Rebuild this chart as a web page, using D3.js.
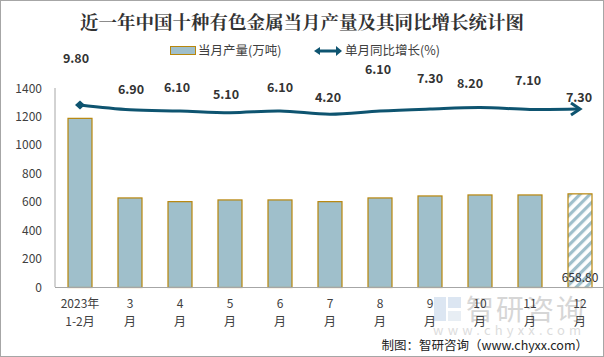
<!DOCTYPE html>
<html><head><meta charset="utf-8">
<script src="https://cdn.jsdelivr.net/npm/d3@7"></script>
<style>body{margin:0;background:#fff;}svg{display:block;font-family:"Noto Sans CJK SC","Noto Sans",sans-serif;}</style>
</head><body><div id="chart"></div>
<script>
const categories = [["2023年","1-2月"],["3","月"],["4","月"],["5","月"],["6","月"],["7","月"],["8","月"],["9","月"],["10","月"],["11","月"],["12","月"]];
const output = [1190, 630, 604, 616, 616, 604, 630, 644, 651, 651, 658.8];
const growth = [9.8, 6.9, 6.1, 5.1, 6.1, 4.2, 6.1, 7.3, 8.2, 7.1, 7.3];
const yTicks = [0, 200, 400, 600, 800, 1000, 1200, 1400];
// label placement offsets (layout only)
const labelDx = [-4, 1, -3, -4, 0, -2, -2, 0, -10, -2, -1];
const labelDy = [-47, -21, -24, -19, -24, -17, -42, -31, -25, -29, -12];

const W = 604, H = 357;
const svg = d3.select("#chart").append("svg").attr("width", W).attr("height", H);
svg.append("rect").attr("x",0.5).attr("y",0.5).attr("width",W-1).attr("height",H-1).attr("fill","#fff").attr("stroke","#a6a6a6");

const defs = svg.append("defs");
const pat = defs.append("pattern").attr("id","hatch").attr("patternUnits","userSpaceOnUse").attr("width",7).attr("height",7).attr("patternTransform","rotate(45)");
pat.append("rect").attr("width",7).attr("height",7).attr("fill","#fff");
pat.append("rect").attr("x",0).attr("width",3.2).attr("height",7).attr("fill","#9fbfcb");

const x = d3.scaleBand().domain(d3.range(categories.length)).range([55, 605]).paddingInner(0.5).paddingOuter(0.25);
const y = d3.scaleLinear().domain([0, 1400]).range([287, 88]);
const y2 = d3.scaleLinear().domain([-100, 20]).range([287, 88]);

// title
svg.append("text").attr("x", 302).attr("y", 29).attr("text-anchor","middle")
  .attr("font-size", 18.5).attr("font-weight","bold").attr("fill","#333")
  .style("font-family","'Noto Serif CJK SC','Noto Sans CJK SC',serif")
  .text("近一年中国十种有色金属当月产量及其同比增长统计图");

// legend
svg.append("rect").attr("x",170.5).attr("y",46.5).attr("width",25).attr("height",8).attr("fill","#9fbfcb").attr("stroke","#b8860b");
svg.append("text").attr("x",198).attr("y",55).attr("font-size",12.5).attr("fill","#404040").text("当月产量(万吨)");
const lg = svg.append("g");
lg.append("line").attr("x1",318).attr("x2",338).attr("y1",51).attr("y2",51).attr("stroke","#0e5470").attr("stroke-width",3);
lg.append("path").attr("d","M314,51 L320,47 L320,55 Z").attr("fill","#0e5470");
lg.append("path").attr("d","M342,51 L336,46 L336,56 Z").attr("fill","#0e5470");
svg.append("text").attr("x",345).attr("y",55).attr("font-size",12.5).attr("fill","#404040").text("单月同比增长(%)");

// y axis
const ya = svg.append("g");
ya.append("line").attr("x1",55).attr("x2",55).attr("y1",y(1400)).attr("y2",287).attr("stroke","#a6a6a6");
ya.selectAll("text").data(yTicks).join("text").attr("x",42).attr("y",d=>y(d)+4.5).attr("text-anchor","end")
  .attr("font-size",12).attr("fill","#404040").text(d=>d);

// watermark
const wm = svg.append("g").attr("opacity",0.4);
wm.append("rect").attr("x",434).attr("y",297).attr("width",12).attr("height",24).attr("fill","#a9c2df");
wm.append("rect").attr("x",448).attr("y",297).attr("width",13).attr("height",11).attr("fill","#a9c2df");
wm.append("rect").attr("x",448).attr("y",311).attr("width",13).attr("height",10).attr("fill","#c8d6e6");
wm.append("text").attr("x",466).attr("y",320).attr("font-size",28).attr("fill","#9a9a9a").attr("letter-spacing",2).text("智研咨询");
wm.append("text").attr("x",433).attr("y",335).attr("font-size",13).attr("fill","#aaa").attr("letter-spacing",4.2).text("www.chyxx.com");

// bars
svg.selectAll("rect.bar").data(output).join("rect").attr("class","bar")
  .attr("x",(d,i)=>x(i)+0.5).attr("y",d=>y(d)+0.5).attr("width",x.bandwidth()-1).attr("height",d=>287-y(d))
  .attr("fill",(d,i)=>i===output.length-1?"url(#hatch)":"#9fbfcb").attr("stroke","#b8860b").attr("stroke-width",1.2);

// x axis
svg.append("line").attr("x1",55).attr("x2",605).attr("y1",287.5).attr("y2",287.5).attr("stroke","#a6a6a6");
const xl = svg.append("g");
categories.forEach((c,i)=>{
  const cx = x(i)+x.bandwidth()/2;
  xl.append("text").attr("x",cx).attr("y",308).attr("text-anchor","middle").attr("font-size",12).attr("fill","#404040").text(c[0]);
  xl.append("text").attr("x",cx).attr("y",326).attr("text-anchor","middle").attr("font-size",12).attr("fill","#404040").text(c[1]);
});

// last bar label
const li = output.length-1;
svg.append("text").attr("x",x(li)+x.bandwidth()/2).attr("y",282).attr("text-anchor","middle").attr("font-size",12).attr("fill","#333").text(output[li].toFixed(2));

// line
const pts = growth.map((v,i)=>[x(i)+x.bandwidth()/2, y2(v)]);
const line = d3.line().curve(d3.curveCatmullRom.alpha(0.5));
const last = pts[pts.length-1];
const pts2 = pts.slice(); pts2[pts2.length-1] = [last[0]-2, last[1]];
svg.append("path").attr("d",line(pts2)).attr("fill","none").attr("stroke","#0e5470").attr("stroke-width",3);
svg.append("path").attr("d",`M${pts[0][0]-5},${pts[0][1]} L${pts[0][0]},${pts[0][1]-4.5} L${pts[0][0]+5},${pts[0][1]} L${pts[0][0]},${pts[0][1]+4.5} Z`).attr("fill","#0e5470");
svg.append("path").attr("d",`M${last[0]-9},${last[1]-6} L${last[0]},${last[1]} L${last[0]-9},${last[1]+6}`).attr("fill","none").attr("stroke","#0e5470").attr("stroke-width",3);

svg.selectAll("text.gl").data(growth).join("text").attr("class","gl")
  .attr("x",(d,i)=>pts[i][0]+labelDx[i]).attr("y",(d,i)=>pts[i][1]+labelDy[i]+5)
  .attr("text-anchor","middle").attr("font-size",12.5).attr("font-weight","bold").attr("fill","#333").text(d=>d.toFixed(2));

// footer
svg.append("text").attr("x",588).attr("y",350).attr("text-anchor","end").attr("font-size",12.5).attr("fill","#222")
  .text("制图：智研咨询（www.chyxx.com）");
</script></body></html>
